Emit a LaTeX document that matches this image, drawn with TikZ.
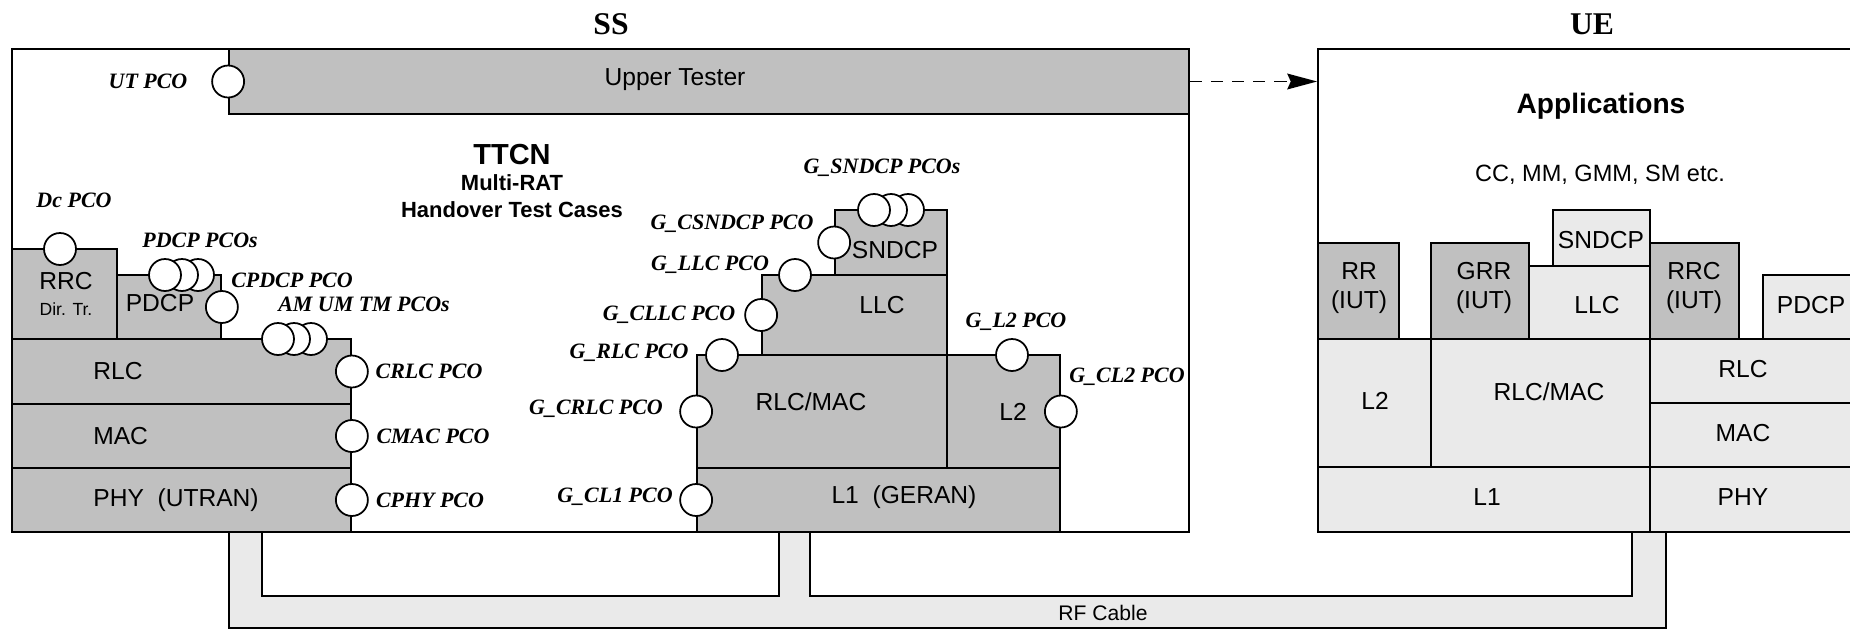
\documentclass[tikz,border=0pt]{standalone}
\usepackage{fontspec}
\setmainfont{Liberation Sans}
\newfontfamily\pcofont{Liberation Serif}
\usetikzlibrary{arrows.meta,positioning,fit}
\definecolor{ssGrey}{HTML}{C0C0C0}
\definecolor{ueLight}{HTML}{EAEAEA}
\tikzset{
  >={Stealth[length=17pt,width=9pt,inset=2pt]},
  frame/.style={draw, line width=1pt, inner sep=0pt},
  ssbox/.style={draw, fill=ssGrey, line width=1pt, inner sep=0pt},
  uebox/.style={draw, fill=ueLight, line width=0.8pt, inner sep=0pt},
  iutbox/.style={uebox, fill=ssGrey},
  pco/.style={circle, draw, fill=white, line width=1pt, minimum size=0.64cm, inner sep=0pt},
  pcolbl/.style={font=\pcofont\bfseries\itshape\fontsize{12.5}{14}\selectfont, inner sep=0pt},
  lyr/.style={font=\fontsize{14}{16.5}\selectfont, align=center, inner sep=0pt},
  hdr/.style={font=\pcofont\bfseries\fontsize{18}{20}\selectfont, inner sep=0pt},
  cable/.style={draw, line width=0.8pt},
  dashflow/.style={->, dash pattern=on 7pt off 5pt, line width=0.9pt},
}
\begin{document}
\begin{tikzpicture}[x=0.02cm,y=-0.02cm]
        \clip (0,0) rectangle (1850,629);
        \fill[white] (0,0) rectangle (1850,629);
        \fill[ueLight] (229,532) rectangle (1666,628);
        \fill[white] (262,532) rectangle (779,596) (810,532) rectangle (1632,596);
        \draw[cable] (229,532) |- (1666,628) -- (1666,532);
        \draw[cable] (262,532) |- (779,596) -- (779,532);
        \draw[cable] (810,532) |- (1632,596) -- (1632,532);
        \node[lyr,font=\fontsize{12}{14}\selectfont] (rfcable) at (1103,613){RF Cable};
        \node[frame,fit={(12,49) (1189,532)}] (ss) {};
        \node[frame,fit={(1318,49) (1862,532)}] (ue) {};
        \node[hdr] (sslbl) at (611,24){SS};
        \node[hdr] (uelbl) at (1592,24){UE};
        \node[ssbox,fit={(229,49) (1189,114)}] (ut) {};
        \node[lyr] (utlbl) at (675,80){Upper Tester};
        \draw[dashflow] (ut.east) -- (ut.east -| ue.west);
        \node[font=\bfseries\fontsize{16.5}{18}\selectfont,inner sep=0pt] (ttcn) at (512,155){TTCN};
        \node[font=\bfseries\fontsize{12.5}{14}\selectfont,inner sep=0pt] (mrat) at (512,183){Multi-RAT};
        \node[font=\bfseries\fontsize{12.5}{14}\selectfont,inner sep=0pt] (hotc) at (512,210){Handover Test Cases};
        \node[ssbox,fit={(12,249) (117,339)}] (rrc) {};
        \node[ssbox,fit={(117,275) (221,339)}] (pdcp) {};
        \node[ssbox,fit={(12,339) (351,404)}] (rlc) {};
        \node[ssbox,fit={(12,404) (351,468)}] (mac) {};
        \node[ssbox,fit={(12,468) (351,532)}] (phy) {};
        \node[lyr] at (66,281){RRC};
        \node[lyr,font=\fontsize{10}{12}\selectfont] at (66,309){Dir. Tr.};
        \node[lyr] at (160,303){PDCP};
        \node[lyr,anchor=west] at (93,371){RLC};
        \node[lyr,anchor=west] at (93,436){MAC};
        \node[lyr,anchor=west] at (93,500){PHY\ \ (UTRAN)};
        \node[ssbox,fit={(835,210) (947,275)}] (sndcp) {};
        \node[ssbox,fit={(762,275) (947,355)}] (llc) {};
        \node[ssbox,fit={(697,355) (947,468)}] (rlcmac) {};
        \node[ssbox,fit={(947,355) (1060,468)}] (gl2) {};
        \node[ssbox,fit={(697,468) (1060,532)}] (gl1) {};
        \node[lyr] at (895,250){SNDCP};
        \node[lyr] at (882,305){LLC};
        \node[lyr] at (811,402){RLC/MAC};
        \node[lyr] at (1013,412){L2};
        \node[lyr] at (904,497){L1\ \ (GERAN)};
        \node[pco] (utpco) at (ut.west){};
        \node[pco] (dcpco) at (60,249){};
        \node[pco] (pdcp3) at (198,275){};\node[pco] (pdcp2) at (182,275){};\node[pco] (pdcp1) at (165,275){};
        \node[pco] (cpdcp) at (pdcp.east){};
        \node[pco] (amtm3) at (311,339){};\node[pco] (amtm2) at (294,339){};\node[pco] (amtm1) at (278,339){};
        \node[pco] (crlc) at (rlc.east){};
        \node[pco] (cmac) at (mac.east){};
        \node[pco] (cphy) at (phy.east){};
        \node[pco] (gsn3) at (908,210){};\node[pco] (gsn2) at (891,210){};\node[pco] (gsn1) at (874,210){};
        \node[pco] (gcsndcp) at (sndcp.west){};
        \node[pco] (gllc) at (795,275){};
        \node[pco] (gcllc) at (llc.west){};
        \node[pco] (grlc) at (722,355){};
        \node[pco] (gcrlc) at (rlcmac.west){};
        \node[pco] (gcl1) at (gl1.west){};
        \node[pco] (gl2pco) at (1012,355){};
        \node[pco] (gcl2) at (gl2.east){};
        \node[pcolbl] at (148,81){UT PCO};
        \node[pcolbl] at (74,200){Dc PCO};
        \node[pcolbl] at (200,240){PDCP PCOs};
        \node[pcolbl] at (292,280){CPDCP PCO};
        \node[pcolbl] at (364,304){AM UM TM PCOs};
        \node[pcolbl] at (429,371){CRLC PCO};
        \node[pcolbl] at (433,436){CMAC PCO};
        \node[pcolbl] at (430,500){CPHY PCO};
        \node[pcolbl] at (882,168){G\_SNDCP PCOs};
        \node[pcolbl] at (732,224){G\_CSNDCP PCO};
        \node[pcolbl] at (710,265){G\_LLC PCO};
        \node[pcolbl] at (669,315){G\_CLLC PCO};
        \node[pcolbl] at (629,353){G\_RLC PCO};
        \node[pcolbl] at (596,409){G\_CRLC PCO};
        \node[pcolbl] at (615,497){G\_CL1 PCO};
        \node[pcolbl] at (1016,322){G\_L2 PCO};
        \node[pcolbl] at (1127,377){G\_CL2 PCO};
        \node[font=\bfseries\fontsize{16}{18}\selectfont,inner sep=0pt] (apps) at (1601,106){Applications};
        \node[font=\fontsize{13.4}{15}\selectfont,inner sep=0pt] (nas) at (1600,175){CC, MM, GMM, SM etc.};
        \node[iutbox,fit={(1318,243) (1399,339)}] (rr) {};
        \node[iutbox,fit={(1431,243) (1529,339)}] (grr) {};
        \node[uebox,fit={(1553,210) (1650,266)}] (uesndcp) {};
        \node[uebox,fit={(1529,266) (1650,339)}] (uellc) {};
        \node[iutbox,fit={(1650,243) (1739,339)}] (uerrc) {};
        \node[uebox,fit={(1763,275) (1862,339)}] (uepdcp) {};
        \node[uebox,fit={(1318,339) (1431,467)}] (uel2) {};
        \node[uebox,fit={(1431,339) (1650,467)}] (uerlcmac) {};
        \node[uebox,fit={(1650,339) (1862,403)}] (uerlc) {};
        \node[uebox,fit={(1650,403) (1862,467)}] (uemac) {};
        \node[uebox,fit={(1318,467) (1650,532)}] (uel1) {};
        \node[uebox,fit={(1650,467) (1862,532)}] (uephy) {};
        \node[lyr] at (1359,288){RR\\(IUT)};
        \node[lyr] at (1484,288){GRR\\(IUT)};
        \node[lyr] at (1694,288){RRC\\(IUT)};
        \node[lyr] at (1601,240){SNDCP};
        \node[lyr] at (1597,305){LLC};
        \node[lyr] at (1811,305){PDCP};
        \node[lyr] at (1375,401){L2};
        \node[lyr] at (1549,392){RLC/MAC};
        \node[lyr] at (1743,369){RLC};
        \node[lyr] at (1743,433){MAC};
        \node[lyr] at (1487,497){L1};
        \node[lyr] at (1743,497){PHY};
      \end{tikzpicture}
\end{document}
